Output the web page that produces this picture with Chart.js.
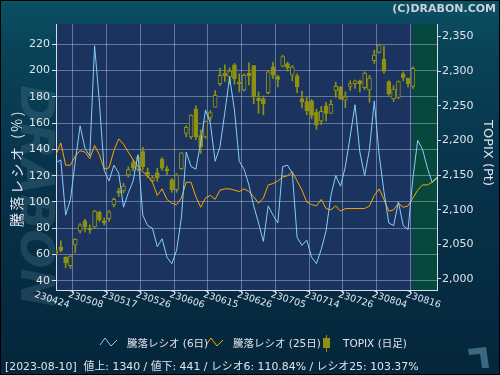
<!DOCTYPE html>
<html>
<head>
<meta charset="utf-8">
<script src="https://cdn.jsdelivr.net/npm/chart.js@4.4.0/dist/chart.umd.min.js"></script>
<style>
  html, body { margin: 0; padding: 0; background: #05263b; }
  #wrap { width: 500px; height: 375px; }
</style>
</head>
<body>
<div id="wrap"><canvas id="chart" width="500" height="375"></canvas></div>
<script>
// x axis: trading days counted from 2023-04-24
const tickDays = [0, 7, 14, 21, 28, 35, 42, 49, 56, 63, 70, 77];
const tickLabels = ['230424', '230508', '230517', '230526', '230606', '230615',
  '230626', '230705', '230714', '230726', '230804', '230816'];
const ratioTicks = [40, 60, 80, 100, 120, 140, 160, 180, 200, 220];
const topixTicks = [2000, 2050, 2100, 2150, 2200, 2250, 2300, 2350];
const latestDay = 74;   // 2023-08-10, start of the green zone
const lastDay = 79;

const ratio6 = [
  130, 132, 90, 102, 131, 158, 141, 135, 219, 176,
  124, 116, 128, 122, 96, 107, 116, 136, 90, 82,
  80, 66, 72, 58, 53, 63, 88, 138, 127, 125,
  145, 170, 160, 131, 142, 168, 195, 170, 131, 125,
  113, 97, 84, 70, 97, 90, 84, 127, 128, 122,
  73, 67, 71, 58, 53, 64, 78, 105, 120, 112,
  127, 150, 174, 138, 120, 140, 177, 136, 108, 84,
  82, 100, 82, 79, 118, 147, 140, 126, 115, 118
];
const ratio25 = [
  136, 145, 128, 128, 135, 139, 138, 133, 143, 136,
  125, 126, 139, 148, 144, 138, 132, 127, 123, 120,
  115, 105, 110, 102, 99, 98, 103, 115, 115, 104,
  96, 103, 105, 102, 109, 110, 110, 109, 108, 110,
  108, 104, 99, 103, 113, 114, 116, 119, 120, 123,
  116, 109, 100, 98, 97, 102, 95, 94, 97, 93,
  95, 95, 95, 95, 95, 97, 105, 110, 102, 93,
  94, 99, 96, 97, 103, 109, 113, 113, 115, 119
];

const topixOpen = [
  2041, 2046, 2031, 2019, 2049, 2069, 2084, 2073, 2075, 2096,
  2084, 2087, 2107, 2127, 2127, 2150, 2168, 2158, 2184, 2154,
  2142, 2153, 2173, 2159, 2143, 2129, 2159, 2210, 2205, 2245,
  2207, 2205, 2233, 2248, 2282, 2297, 2292, 2309, 2284, 2273,
  2297, 2308, 2261, 2260, 2269, 2306, 2292, 2307, 2311, 2294,
  2293, 2260, 2256, 2257, 2241, 2228, 2250, 2239, 2272, 2277,
  2258, 2278, 2282, 2286, 2276, 2273, 2315, 2327, 2317, 2285,
  2260, 2262, 2296, 2290, 2278
];
const topixClose = [
  2037, 2041, 2023, 2033, 2057, 2078, 2075, 2071, 2098, 2085,
  2081, 2097, 2115, 2124, 2134, 2158, 2160, 2176, 2162, 2151,
  2146, 2146, 2160, 2156, 2129, 2150, 2182, 2219, 2236, 2205,
  2191, 2227, 2240, 2265, 2294, 2293, 2300, 2289, 2282, 2294,
  2293, 2263, 2257, 2253, 2299, 2294, 2288, 2321, 2305, 2306,
  2277, 2255, 2243, 2236, 2222, 2242, 2239, 2252, 2278, 2260,
  2263, 2282, 2286, 2282, 2297, 2290, 2323, 2338, 2300, 2267,
  2274, 2285, 2291, 2282, 2304
];
const topixHigh = [
  2042, 2055, 2032, 2034, 2058, 2080, 2086, 2078, 2099, 2098,
  2088, 2099, 2117, 2131, 2138, 2162, 2172, 2178, 2190, 2160,
  2149, 2160, 2175, 2163, 2145, 2152, 2183, 2221, 2237, 2250,
  2215, 2228, 2243, 2272, 2304, 2309, 2305, 2311, 2296, 2296,
  2312, 2308, 2270, 2264, 2301, 2313, 2294, 2323, 2313, 2308,
  2296, 2271, 2262, 2259, 2245, 2249, 2255, 2258, 2284, 2278,
  2270, 2286, 2287, 2287, 2299, 2294, 2330, 2339, 2336, 2286,
  2279, 2286, 2299, 2290, 2306
];
const topixLow = [
  2035, 2039, 2016, 2015, 2038, 2066, 2068, 2066, 2074, 2083,
  2078, 2083, 2104, 2119, 2124, 2147, 2156, 2156, 2158, 2146,
  2140, 2141, 2157, 2150, 2125, 2125, 2158, 2205, 2202, 2201,
  2181, 2203, 2228, 2248, 2279, 2285, 2282, 2281, 2270, 2271,
  2280, 2253, 2239, 2237, 2267, 2289, 2277, 2306, 2300, 2286,
  2269, 2247, 2237, 2231, 2216, 2223, 2228, 2239, 2262, 2259,
  2247, 2272, 2275, 2270, 2273, 2255, 2311, 2326, 2297, 2265,
  2256, 2260, 2286, 2277, 2275
];

const legendLabels = ['騰落レシオ (6日)', '騰落レシオ (25日)', 'TOPIX (日足)'];
const footerText = '[2023-08-10]  値上: 1340 / 値下: 441 / レシオ6: 110.84% / レシオ25: 103.37%';

const NAVY = '#1a345f';
const GREEN = '#06483b';
const OLIVE = '#919110';
const SKY = '#87cefa';
const ORANGE = '#ffa500';
const GRID = 'rgba(195,205,225,0.45)';
const AXIS = '#d6dde8';
const TXT = '#dfe4eb';
const FONT = '"DejaVu Sans", "Noto Sans CJK JP", sans-serif';

Chart.defaults.font.family = FONT;
Chart.defaults.color = TXT;

const pts = arr => arr.map((v, i) => ({ x: i, y: v }));
const upDay = i => topixClose[i] >= topixOpen[i];

const backdrop = {
  id: 'backdrop',
  beforeDraw(chart) {
    const { ctx, chartArea: a, scales } = chart;
    ctx.save();
    const g = ctx.createLinearGradient(0, 0, 0, 375);
    g.addColorStop(0, '#0b5064');
    g.addColorStop(0.12, '#094459');
    g.addColorStop(0.45, '#07334b');
    g.addColorStop(1, '#05263b');
    ctx.fillStyle = g;
    ctx.fillRect(0, 0, 500, 375);

    // watermark
    ctx.save();
    ctx.translate(33, 196);
    ctx.rotate(Math.PI / 2);
    ctx.font = 'italic bold 46px "DejaVu Sans"';
    ctx.fillStyle = 'rgba(110,150,170,0.22)';
    ctx.textAlign = 'center';
    ctx.textBaseline = 'middle';
    ctx.fillText('DRABON', 0, 0);
    ctx.restore();

    ctx.fillStyle = NAVY;
    ctx.fillRect(a.left, a.top, a.right - a.left, a.bottom - a.top);
    const gx = scales.x.getPixelForValue(latestDay);
    ctx.fillStyle = GREEN;
    ctx.fillRect(gx, a.top, a.right - gx, a.bottom - a.top);

    ctx.font = 'bold 11px "DejaVu Sans"';
    ctx.fillStyle = '#c9d2d8';
    ctx.textAlign = 'right';
    ctx.textBaseline = 'alphabetic';
    ctx.fillText('(C)DRABON.COM', 496, 12);
    ctx.restore();
  },
  afterDraw(chart) {
    const { ctx, scales } = chart;
    ctx.save();
    ctx.fillStyle = TXT;

    // x tick labels, slanted down to the right
    ctx.font = '9.5px "DejaVu Sans"';
    ctx.textAlign = 'center';
    ctx.textBaseline = 'middle';
    tickDays.forEach((d, i) => {
      const px = scales.x.getPixelForValue(d);
      ctx.save();
      ctx.translate(px - 4, 300);
      ctx.rotate(18 * Math.PI / 180);
      ctx.fillText(tickLabels[i], 0, 0);
      ctx.restore();
    });

    // axis titles
    ctx.save();
    ctx.font = '14px "Noto Sans CJK JP"';
    ctx.letterSpacing = '2.5px';
    ctx.translate(17, 168);
    ctx.rotate(-Math.PI / 2);
    ctx.fillText('騰落レシオ (%)', 0, 0);
    ctx.restore();
    ctx.save();
    ctx.font = '13px "DejaVu Sans"';
    ctx.translate(487, 153);
    ctx.rotate(Math.PI / 2);
    ctx.fillText('TOPIX (Pt)', 0, 0);
    ctx.restore();

    // legend
    ctx.lineWidth = 1;
    ctx.strokeStyle = SKY;
    ctx.beginPath();
    ctx.moveTo(100, 345); ctx.lineTo(105, 338); ctx.lineTo(111, 346); ctx.lineTo(117, 340);
    ctx.stroke();
    ctx.strokeStyle = ORANGE;
    ctx.beginPath();
    ctx.moveTo(206, 345); ctx.lineTo(211, 338); ctx.lineTo(217, 346); ctx.lineTo(223, 340);
    ctx.stroke();
    ctx.strokeStyle = OLIVE;
    ctx.beginPath();
    ctx.moveTo(326.5, 335); ctx.lineTo(326.5, 352);
    ctx.stroke();
    ctx.fillStyle = OLIVE;
    ctx.fillRect(323, 338, 7, 10);

    ctx.fillStyle = TXT;
    ctx.font = '10.5px ' + FONT;
    ctx.textAlign = 'left';
    ctx.textBaseline = 'alphabetic';
    ctx.fillText(legendLabels[0], 127, 347);
    ctx.fillText(legendLabels[1], 233, 347);
    ctx.fillText(legendLabels[2], 343, 347);

    // footer, sized to span the same width as the original line
    ctx.font = '12px ' + FONT;
    const fs = 12 * 414 / ctx.measureText(footerText).width;
    ctx.font = fs.toFixed(2) + 'px ' + FONT;
    ctx.fillText(footerText, 5, 370);

    // corner mark
    ctx.fillStyle = '#3b6880';
    ctx.beginPath();
    ctx.moveTo(468, 349); ctx.lineTo(486, 347); ctx.lineTo(489, 368);
    ctx.lineTo(482, 368); ctx.lineTo(480, 354); ctx.lineTo(469, 355);
    ctx.closePath();
    ctx.fill();

    ctx.strokeStyle = '#000';
    ctx.strokeRect(0.5, 0.5, 499, 374);
    ctx.restore();
  }
};

new Chart(document.getElementById('chart'), {
  type: 'line',
  data: {
    datasets: [
      {
        type: 'line',
        label: legendLabels[0],
        data: pts(ratio6),
        yAxisID: 'y',
        borderColor: SKY,
        borderWidth: 1,
        pointRadius: 0,
        tension: 0,
        order: 0
      },
      {
        type: 'line',
        label: legendLabels[1],
        data: pts(ratio25),
        yAxisID: 'y',
        borderColor: ORANGE,
        borderWidth: 1,
        pointRadius: 0,
        tension: 0,
        order: 1
      },
      {
        type: 'bar',
        label: legendLabels[2],
        data: topixOpen.map((o, i) => ({ x: i, y: [o, topixClose[i]] })),
        yAxisID: 'y2',
        grouped: false,
        barThickness: 4,
        borderWidth: 1,
        borderSkipped: false,
        borderColor: OLIVE,
        backgroundColor: c => upDay(c.dataIndex) ? NAVY : OLIVE,
        order: 2
      },
      {
        type: 'bar',
        label: 'wick',
        data: topixLow.map((l, i) => ({ x: i, y: [l, topixHigh[i]] })),
        yAxisID: 'y2',
        grouped: false,
        barThickness: 1,
        borderWidth: 0,
        backgroundColor: OLIVE,
        order: 3
      }
    ]
  },
  options: {
    responsive: false,
    animation: false,
    layout: { padding: { top: 24, left: 0, right: 0, bottom: 0 } },
    plugins: {
      legend: { display: false },
      tooltip: { enabled: false }
    },
    scales: {
      x: {
        type: 'linear',
        min: 0,
        max: lastDay,
        offset: false,
        afterBuildTicks: s => { s.ticks = tickDays.map(v => ({ value: v })); },
        ticks: { display: false },
        grid: { color: GRID, lineWidth: 1, drawTicks: true, tickLength: 3, tickColor: AXIS },
        border: { color: AXIS, width: 1 },
        afterFit: s => { s.height = 85; }
      },
      y: {
        position: 'left',
        min: 33,
        max: 235.5,
        afterBuildTicks: s => { s.ticks = ratioTicks.map(v => ({ value: v })); },
        ticks: { color: TXT, font: { size: 11 }, padding: 2 },
        grid: { color: GRID, lineWidth: 1, tickLength: 4, tickColor: AXIS },
        border: { color: AXIS, width: 1 },
        afterFit: s => { s.width = 56; }
      },
      y2: {
        position: 'right',
        min: 1984,
        max: 2368,
        afterBuildTicks: s => { s.ticks = topixTicks.map(v => ({ value: v })); },
        ticks: {
          color: TXT,
          font: { size: 11 },
          padding: 1,
          callback: v => v.toLocaleString('en-US')
        },
        grid: { drawOnChartArea: false, tickLength: 4, tickColor: AXIS },
        border: { color: AXIS, width: 1 },
        afterFit: s => { s.width = 63; }
      }
    }
  },
  plugins: [backdrop]
});
</script>
</body>
</html>
